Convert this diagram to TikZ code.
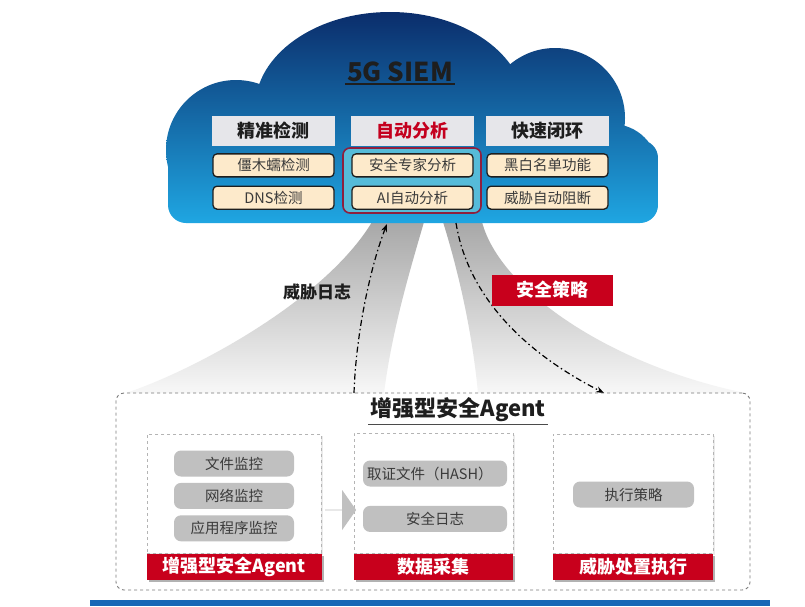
\documentclass[tikz,border=0pt]{standalone}
\usepackage{fontspec}
\setmainfont{Noto Sans CJK SC}
\usetikzlibrary{arrows.meta,positioning,calc,shapes.arrows,shadows}
\definecolor{cloudtop}{HTML}{0B2D6B}
\definecolor{cloudmid}{HTML}{0A63B3}
\definecolor{cloudbot}{HTML}{1FA6E2}
\definecolor{hdrgray}{HTML}{E6E6EA}
\definecolor{hdrred}{HTML}{C4001E}
\definecolor{cream}{HTML}{FDEACB}
\definecolor{inkdark}{HTML}{1E1E1E}
\definecolor{itemtext}{HTML}{3A3A3A}
\definecolor{groupred}{HTML}{8E1F3E}
\definecolor{groupteal}{HTML}{56BBD9}
\definecolor{tagred}{HTML}{C8001C}
\definecolor{pillgray}{HTML}{C0C0C0}
\definecolor{panelgray}{HTML}{B4B4B4}
\definecolor{framegray}{HTML}{7A7A7A}
\definecolor{fangray}{HTML}{A4A4A4}
\definecolor{barblue}{HTML}{1767B6}
\newcommand\fsz[1]{\fontsize{#1}{#1}\selectfont}
\tikzset{
  hdrbox/.style={fill=hdrgray,minimum width=123pt,minimum height=30pt,inner sep=0pt,
    font=\fsz{18}\bfseries,text=inkdark},
  itembox/.style={draw=inkdark,line width=1.3pt,rounded corners=4pt,fill=cream,
    minimum width=121pt,minimum height=23pt,inner sep=0pt,font=\fsz{14.5},text=itemtext},
  pill/.style={fill=pillgray,rounded corners=7pt,minimum height=26pt,inner sep=0pt,
    font=\fsz{14.5},text=itemtext},
  panel/.style={draw=panelgray,dashed,line width=0.8pt,fill=white,
    drop shadow={shadow xshift=1.5pt,shadow yshift=-1.5pt,fill=black,opacity=0.08}},
  redtag/.style={fill=tagred,text=white,font=\fsz{18}\bfseries,inner sep=0pt},
  tagshadow/.style={drop shadow={shadow xshift=2pt,shadow yshift=-2pt,fill=black,opacity=0.3}},
  flowline/.style={-{Stealth[length=8pt,width=6pt]},line width=1.2pt,
    dash pattern=on 6pt off 3pt on 1.5pt off 3pt},
  fan/.style={top color=fangray,bottom color=gray!6}
}

\begin{document}
\begin{tikzpicture}[x=1pt,y=-1pt,node distance=8pt]
  \useasboundingbox[fill=white] (0,0) rectangle (805,606);
  % grey funnels between cloud and agent
  \shade[fan] (372,214) -- (372,222) .. controls (325,300) and (195,370) .. (126,393)
    -- (384,393) .. controls (392,330) and (410,270) .. (424,222) -- (424,214) -- cycle;
  \shade[fan] (443,214) -- (443,222) .. controls (458,270) and (472,330) .. (478,393)
    -- (745,393) .. controls (610,365) and (500,290) .. (482,222) -- (482,214) -- cycle;

  % cloud
  \shade[top color=cloudtop,middle color=cloudmid,bottom color=cloudbot]
    (390,108) ellipse [x radius=135pt,y radius=96pt]
    (236,150) circle [radius=70pt]
    (555,118) circle [radius=70pt]
    (612,170) circle [radius=46pt]
    [rounded corners=18pt] (168,140) rectangle (658,223);

  \node[font=\fsz{26}\bfseries,text=inkdark,inner sep=2pt] (siem) at (400,72) {5G SIEM};
  \draw[line width=1.5pt,inkdark] (siem.south west) -- (siem.south east);

  \node[draw=groupred,line width=1.6pt,fill=groupteal,rounded corners=7pt,
    minimum width=138pt,minimum height=65pt] (autogroup) at (412,180.5) {};

  \node[hdrbox] (detect) at (273.5,131) {精准检测};
  \node[hdrbox,text=hdrred] (analyse) at (412.5,131) {自动分析};
  \node[hdrbox] (respond) at (547.5,131) {快速闭环};
  \node[itembox,below=7pt of detect] (botnet) {僵木蠕检测};
  \node[itembox,below=of botnet] (dns) {DNS检测};
  \node[itembox,below=7pt of analyse] (expert) {安全专家分析};
  \node[itembox,below=of expert] (aiauto) {AI自动分析};
  \node[itembox,below=7pt of respond] (blackwhite) {黑白名单功能};
  \node[itembox,below=of blackwhite] (autoblock) {威胁自动阻断};

  % log flow up, policy flow down
  \coordinate (logfoot) at (354,393);
  \coordinate (logtip) at (387,224);
  \coordinate (policyfoot) at (456,223);
  \coordinate (policytip) at (604,393);
  \draw[flowline] (logfoot) .. controls (356,330) and (372,262) .. (logtip);
  \draw[flowline] (policyfoot) .. controls (466,285) and (510,345) .. (policytip);
  \node[font=\fsz{17}\bfseries,text=inkdark] (loglabel) at (317,292) {威胁日志};
  \node[redtag,minimum width=121pt,minimum height=31pt] (policy) at (552.5,290) {安全策略};

  % agent frame
  \node[draw=framegray,dashed,line width=0.9pt,rounded corners=8pt,
    minimum width=634pt,minimum height=197pt] (agentframe) at (433,491.5) {};
  \node[font=\fsz{22}\bfseries,text=inkdark,inner sep=2pt] (agenttitle) at (458,410) {增强型安全Agent};
  \draw[line width=1.5pt,inkdark!80] (agenttitle.south west) -- (agenttitle.south east);

  \node[panel,minimum width=174pt,minimum height=119pt] (monitor) at (234,493.5) {};
  \node[panel,minimum width=159pt,minimum height=120pt] (collect) at (433.5,493) {};
  \node[panel,minimum width=160pt,minimum height=119pt] (enforce) at (633,493.5) {};
  \node[redtag,tagshadow,minimum width=175pt,minimum height=26pt,below=0pt of monitor] (monitortag) {增强型安全Agent};
  \node[redtag,tagshadow,minimum width=159pt,minimum height=26pt,below=0pt of collect] (collecttag) {数据采集};
  \node[redtag,tagshadow,minimum width=160pt,minimum height=26pt,below=0pt of enforce] (enforcetag) {威胁处置执行};

  \node[pill,minimum width=120pt] (filemon) at (234,463.5) {文件监控};
  \node[pill,minimum width=120pt,below=6pt of filemon] (netmon) {网络监控};
  \node[pill,minimum width=120pt,below=6pt of netmon] (appmon) {应用程序监控};
  \node[pill,text width=136pt,inner xsep=4pt,align=left] (hashfile) at (435,473.5) {取证文件（HASH）};
  \node[pill,minimum width=144pt,below=19pt of hashfile] (seclog) {安全日志};
  \node[pill,minimum width=121pt] (runpolicy) at (633.5,494.5) {执行策略};

  \node[single arrow,fill=pillgray,minimum height=31pt,minimum width=40pt,
    single arrow head extend=10pt,single arrow tip angle=110,inner sep=0pt] (handoff) at (340.5,510) {};

  \fill[barblue] (90,600) rectangle (770,606);
\end{tikzpicture}
\end{document}
